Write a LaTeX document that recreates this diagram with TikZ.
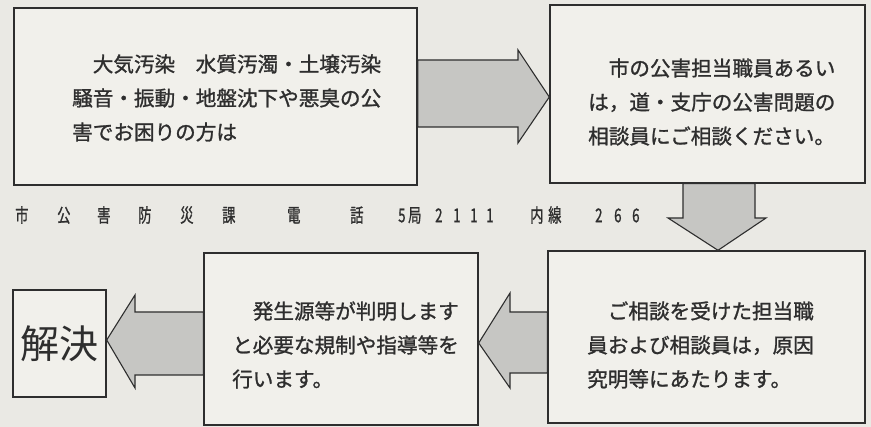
\documentclass[tikz,border=0pt]{standalone}
\usepackage{fontspec}
\usepackage{graphicx}
\newfontfamily\jp{Noto Sans CJK JP}
\newfontfamily\jpb[FakeBold=1.2]{Noto Sans CJK JP}
\usetikzlibrary{calc}
\definecolor{paper}{HTML}{EAE9E4}
\definecolor{boxfill}{HTML}{F1F0EB}
\definecolor{ink}{HTML}{2E2E2E}
\definecolor{arrowfill}{HTML}{C6C6C3}
\newcommand\tglyph[2]{\makebox[#1pt][l]{\scalebox{0.7}[1]{#2}}}
\begin{document}
\begin{tikzpicture}[x=1pt,y=-1pt,
  box/.style={draw=ink, line width=1.4pt, fill=boxfill, inner sep=0pt},
  body/.style={font=\jpb\fontsize{20.6}{34}\selectfont, text=ink, align=left, inner sep=0pt, anchor=west},
  blockarrow/.style={draw=ink, line width=1.1pt, fill=arrowfill, line join=miter}]
\fill[paper] (0,0) rectangle (871,427);
\useasboundingbox (0,0) rectangle (871,427);

% boxes
\node[box, minimum width=403pt, minimum height=177pt] (b1) at (215.5,96.5) {};
\node[box, minimum width=315pt, minimum height=178pt] (b2) at (707.5,94) {};
\node[box, minimum width=317pt, minimum height=172pt] (b3) at (706.5,337) {};
\node[box, minimum width=274pt, minimum height=172pt] (b4) at (341,339) {};
\node[box, minimum width=93pt, minimum height=107pt, text=ink, font=\jp\fontsize{39}{39}\selectfont] (b5) at (59.5,343.5) {解決};

% texts
\node[body] (t1) at (72,98) {　大気汚染　水質汚濁・土壌汚染\\騒音・振動・地盤沈下や悪臭の公\\害でお困りの方は};
\node[body] (t2) at (588,102) {　市の公害担当職員あるい\\は，道・支庁の公害問題の\\相談員にご相談ください。};
\node[body] (t3) at (587,345) {　ご相談を受けた担当職\\員および相談員は，原因\\究明等にあたります。};
\node[body] (t4) at (232,345) {　発生源等が判明します\\と必要な規制や指導等を\\行います。};

\node[anchor=west, inner sep=0pt, text=ink, font=\jpb\fontsize{19}{19}\selectfont] (tel) at (15,215)
 {\tglyph{42}{市}\tglyph{40}{公}\tglyph{41}{害}\tglyph{42}{防}\tglyph{42}{災}\tglyph{65}{課}\tglyph{63}{電}\tglyph{48}{話}\tglyph{10}{5}\tglyph{27}{局}\tglyph{18}{2}\tglyph{17}{1}\tglyph{16}{1}\tglyph{44}{1}\tglyph{18}{内}\tglyph{47}{線}\tglyph{19}{2}\tglyph{18}{6}\tglyph{10}{6}};

% block arrows
\draw[blockarrow] (b1.east |- 0,60) -- (518,60) -- (518,50) -- (b2.west |- 0,97) -- (518,143) -- (518,127) -- (b1.east |- 0,127) -- cycle;
\draw[blockarrow] (683,0 |- b2.south) -- (683,218) -- (668,218) -- (718,0 |- b3.north) -- (766,218) -- (755,218) -- (755,0 |- b2.south) -- cycle;
\draw[blockarrow] (b3.west |- 0,312) -- (510,312) -- (510,293) -- (b4.east |- 0,343) -- (510,388) -- (510,373) -- (b3.west |- 0,373) -- cycle;
\draw[blockarrow] (b4.west |- 0,312) -- (135,312) -- (135,295) -- (b5.east |- 0,340) -- (135,388) -- (135,375) -- (b4.west |- 0,375) -- cycle;
\end{tikzpicture}
\end{document}
